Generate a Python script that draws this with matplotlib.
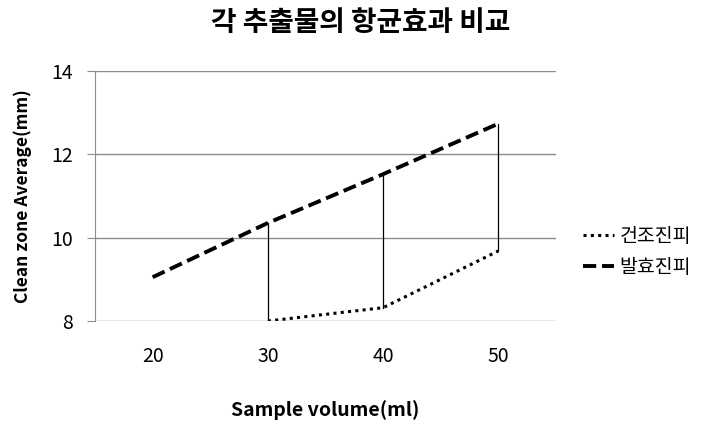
import numpy as np
import matplotlib
matplotlib.use("Agg")
import matplotlib.pyplot as plt

plt.rcParams['font.family'] = ['Noto Sans CJK KR', 'DejaVu Sans']

categories = ["20", "30", "40", "50"]
dried_peel = [np.nan, 8.0, 8.32, 9.68]        # 건조진피
fermented_peel = [9.05, 10.35, 11.52, 12.73]  # 발효진피
y_ticks = [8, 10, 12, 14]

fig = plt.figure(figsize=(7.07, 4.22), dpi=100)
ax = fig.add_axes([0.1344, 0.2393, 0.652, 0.5932])

x = np.arange(len(categories))

# high-low connectors between the two series
for xi, lo, hi in zip(x, dried_peel, fermented_peel):
    if not (np.isnan(lo) or np.isnan(hi)):
        ax.plot([xi, xi], [lo, hi], color="black", lw=0.9, zorder=2)

ax.plot(x, dried_peel, color="black", lw=2.2, linestyle=(0, (1.0, 1.4)),
        dash_capstyle="butt", label="건조진피", zorder=3)
ax.plot(x, fermented_peel, color="black", lw=2.8, linestyle=(0, (3.4, 1.5)),
        label="발효진피", zorder=3)

ax.set_xlim(-0.5, len(categories) - 0.5)
ax.set_ylim(8, 14)
ax.set_xticks(x)
ax.set_xticklabels(categories)
ax.set_yticks(y_ticks)
ax.yaxis.grid(True, color="#8c8c8c", lw=1.0)
ax.set_axisbelow(True)

for s in ["top", "right", "bottom"]:
    ax.spines[s].set_visible(False)
ax.spines["left"].set_color("#8c8c8c")
ax.tick_params(axis="y", length=6, color="#8c8c8c", labelsize=14, pad=10)
ax.tick_params(axis="x", length=0, labelsize=14, pad=18)

ax.set_xlabel("Sample volume(ml)", fontsize=14, fontweight="bold", labelpad=24)
ax.set_ylabel("Clean zone Average(mm)", fontsize=12.5, fontweight="bold", labelpad=14)

fig.suptitle("각 추출물의 항균효과 비교", fontsize=20, fontweight="heavy",
             x=0.51, y=0.978)

leg = ax.legend(loc="center left", bbox_to_anchor=(1.02, 0.276), frameon=False,
                fontsize=14, handlelength=1.6, handletextpad=0.3, labelspacing=0.55)

fig.savefig("out.png", dpi=100)
